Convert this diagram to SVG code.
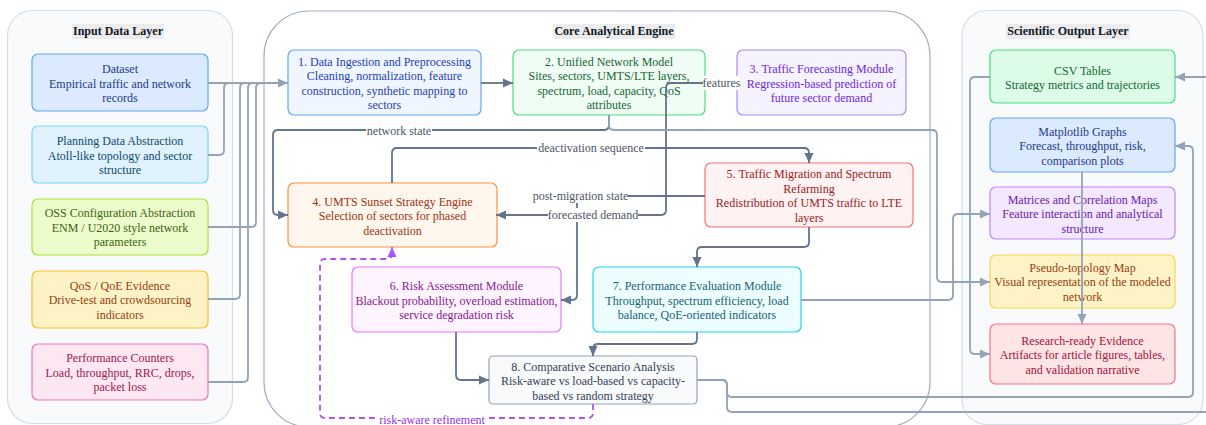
<svg xmlns="http://www.w3.org/2000/svg" width="1206" height="425" viewBox="0 0 1206 425">
<defs>
<marker id="aD" viewBox="0 0 10 10" refX="10" refY="5" markerWidth="10" markerHeight="10" markerUnits="userSpaceOnUse" orient="auto"><path d="M0,0.5 L10,5 L0,9.5 z" fill="#64748b"/></marker>
<marker id="aL" viewBox="0 0 10 10" refX="10" refY="5" markerWidth="10" markerHeight="10" markerUnits="userSpaceOnUse" orient="auto"><path d="M0,0.5 L10,5 L0,9.5 z" fill="#94a3b8"/></marker>
<marker id="aP" viewBox="0 0 10 10" refX="10" refY="5" markerWidth="10" markerHeight="10" markerUnits="userSpaceOnUse" orient="auto"><path d="M0,0.5 L10,5 L0,9.5 z" fill="#a855f7"/></marker>
</defs>
<style>
text{font-family:"Liberation Serif","Times New Roman",serif;font-size:12px;text-anchor:middle}
.title{font-weight:bold;fill:#111827}
.tbg{fill:#ececec}
.node{stroke-width:1.2}
.ed{fill:none;stroke:#64748b;stroke-width:1.8}
.el{fill:none;stroke:#94a3b8;stroke-width:1.8}
.ep{fill:none;stroke:#a855f7;stroke-width:1.8;stroke-dasharray:6 4}
.lbg{fill:#ffffff}
.lbl{fill:#4b5563}
</style>
<rect width="1206" height="425" fill="#ffffff"/>
<g id="clusters">
<rect x="7.5" y="10.5" width="225" height="413" rx="25" fill="#f8fafc" stroke="#d5dde8" stroke-width="1.2"/>
<rect x="264" y="11" width="666" height="416" rx="45" fill="#ffffff" stroke="#a3afc2" stroke-width="1.2"/>
<rect x="962" y="10.5" width="241" height="414" rx="25" fill="#f8fafc" stroke="#d5dde8" stroke-width="1.2"/>
<rect class="tbg" x="72" y="24" width="92" height="15"/>
<text class="title" x="118" y="35">Input Data Layer</text>
<rect class="tbg" x="553" y="24" width="122" height="15"/>
<text class="title" x="614" y="35">Core Analytical Engine</text>
<rect class="tbg" x="1006" y="24" width="124" height="15"/>
<text class="title" x="1068" y="35">Scientific Output Layer</text>
</g>
<g id="n-dataset">
<rect class="node" x="32" y="54" width="176" height="57" rx="6" fill="#dbeafe" stroke="#60a5fa"/>
<text fill="#1e3a8a"><tspan x="120" y="73">Dataset</tspan><tspan x="120" y="87.5">Empirical traffic and network</tspan><tspan x="120" y="102">records</tspan></text>
</g>
<g id="n-planning">
<rect class="node" x="32" y="126" width="176" height="57" rx="6" fill="#e0f2fe" stroke="#7dd3fc"/>
<text fill="#0c4a6e"><tspan x="120" y="145">Planning Data Abstraction</tspan><tspan x="120" y="159.5">Atoll-like topology and sector</tspan><tspan x="120" y="174">structure</tspan></text>
</g>
<g id="n-oss">
<rect class="node" x="32" y="199" width="176" height="56" rx="6" fill="#ecfccb" stroke="#a3e635"/>
<text fill="#3f6212"><tspan x="120" y="217">OSS Configuration Abstraction</tspan><tspan x="120" y="231.5">ENM / U2020 style network</tspan><tspan x="120" y="246">parameters</tspan></text>
</g>
<g id="n-qos">
<rect class="node" x="32" y="271" width="176" height="57" rx="6" fill="#fef3c7" stroke="#fbbf24"/>
<text fill="#92400e"><tspan x="120" y="289.5">QoS / QoE Evidence</tspan><tspan x="120" y="304">Drive-test and crowdsourcing</tspan><tspan x="120" y="318.5">indicators</tspan></text>
</g>
<g id="n-counters">
<rect class="node" x="32" y="344" width="176" height="56" rx="6" fill="#fce7f3" stroke="#f472b6"/>
<text fill="#9d174d"><tspan x="120" y="362">Performance Counters</tspan><tspan x="120" y="376.5">Load, throughput, RRC, drops,</tspan><tspan x="120" y="391">packet loss</tspan></text>
</g>
<g id="n1">
<rect class="node" x="288" y="50" width="193" height="65" rx="6" fill="#eff6ff" stroke="#60a5fa"/>
<text fill="#1e40af"><tspan x="384.5" y="65.5">1. Data Ingestion and Preprocessing</tspan><tspan x="384.5" y="80">Cleaning, normalization, feature</tspan><tspan x="384.5" y="94.5">construction, synthetic mapping to</tspan><tspan x="384.5" y="109">sectors</tspan></text>
</g>
<g id="n2">
<rect class="node" x="513" y="50" width="192" height="65" rx="6" fill="#f0fdf4" stroke="#4ade80"/>
<text fill="#166534"><tspan x="609" y="65.5">2. Unified Network Model</tspan><tspan x="609" y="80">Sites, sectors, UMTS/LTE layers,</tspan><tspan x="609" y="94.5">spectrum, load, capacity, QoS</tspan><tspan x="609" y="109">attributes</tspan></text>
</g>
<g id="n3">
<rect class="node" x="737" y="50" width="169" height="65" rx="6" fill="#f5f3ff" stroke="#a78bfa"/>
<text fill="#6d28d9"><tspan x="821.5" y="73">3. Traffic Forecasting Module</tspan><tspan x="821.5" y="87.5">Regression-based prediction of</tspan><tspan x="821.5" y="102">future sector demand</tspan></text>
</g>
<g id="n4">
<rect class="node" x="288" y="183" width="209" height="64" rx="6" fill="#fff7ed" stroke="#fb923c"/>
<text fill="#9a3412"><tspan x="392.5" y="205.5">4. UMTS Sunset Strategy Engine</tspan><tspan x="392.5" y="220">Selection of sectors for phased</tspan><tspan x="392.5" y="234.5">deactivation</tspan></text>
</g>
<g id="n5">
<rect class="node" x="705" y="163" width="208" height="64" rx="6" fill="#fef2f2" stroke="#f87171"/>
<text fill="#991b1b"><tspan x="809" y="178">5. Traffic Migration and Spectrum</tspan><tspan x="809" y="192.5">Refarming</tspan><tspan x="809" y="207">Redistribution of UMTS traffic to LTE</tspan><tspan x="809" y="221.5">layers</tspan></text>
</g>
<g id="n6">
<rect class="node" x="352" y="267" width="209" height="65" rx="6" fill="#fdf4ff" stroke="#e879f9"/>
<text fill="#86198f"><tspan x="456.5" y="290">6. Risk Assessment Module</tspan><tspan x="456.5" y="304.5">Blackout probability, overload estimation,</tspan><tspan x="456.5" y="319">service degradation risk</tspan></text>
</g>
<g id="n7">
<rect class="node" x="593" y="267" width="208" height="65" rx="6" fill="#ecfeff" stroke="#22d3ee"/>
<text fill="#155e75"><tspan x="697" y="290">7. Performance Evaluation Module</tspan><tspan x="697" y="304.5">Throughput, spectrum efficiency, load</tspan><tspan x="697" y="319">balance, QoE-oriented indicators</tspan></text>
</g>
<g id="n8">
<rect class="node" x="489" y="356" width="208" height="48" rx="4" fill="#f8fafc" stroke="#94a3b8"/>
<text fill="#334155"><tspan x="593" y="370.5">8. Comparative Scenario Analysis</tspan><tspan x="593" y="385">Risk-aware vs load-based vs capacity-</tspan><tspan x="593" y="399.5">based vs random strategy</tspan></text>
</g>
<g id="o-csv">
<rect class="node" x="990" y="50" width="185" height="53" rx="6" fill="#dcfce7" stroke="#4ade80"/>
<text fill="#166534"><tspan x="1082.5" y="74.5">CSV Tables</tspan><tspan x="1082.5" y="89">Strategy metrics and trajectories</tspan></text>
</g>
<g id="o-graphs">
<rect class="node" x="990" y="118" width="185" height="54" rx="6" fill="#dbeafe" stroke="#60a5fa"/>
<text fill="#1e3a8a"><tspan x="1082.5" y="135.5">Matplotlib Graphs</tspan><tspan x="1082.5" y="150">Forecast, throughput, risk,</tspan><tspan x="1082.5" y="164.5">comparison plots</tspan></text>
</g>
<g id="o-matrices">
<rect class="node" x="990" y="187" width="185" height="52" rx="6" fill="#f3e8ff" stroke="#c084fc"/>
<text fill="#6b21a8"><tspan x="1082.5" y="203.5">Matrices and Correlation Maps</tspan><tspan x="1082.5" y="218">Feature interaction and analytical</tspan><tspan x="1082.5" y="232.5">structure</tspan></text>
</g>
<g id="o-topology">
<rect class="node" x="990" y="255" width="185" height="53" rx="6" fill="#fef3c7" stroke="#fcd34d"/>
<text fill="#92400e"><tspan x="1082.5" y="271.5">Pseudo-topology Map</tspan><tspan x="1082.5" y="286">Visual representation of the modeled</tspan><tspan x="1082.5" y="300.5">network</tspan></text>
</g>
<g id="o-evidence">
<rect class="node" x="990" y="324" width="185" height="60" rx="6" fill="#ffe4e6" stroke="#fb7185"/>
<text fill="#9f1239"><tspan x="1082.5" y="344.5">Research-ready Evidence</tspan><tspan x="1082.5" y="359">Artifacts for article figures, tables,</tspan><tspan x="1082.5" y="373.5">and validation narrative</tspan></text>
</g>
<g id="connectors">
<path class="el" d="M208,83 H288" marker-end="url(#aL)"/>
<path class="el" d="M208,155 H219 Q224,155 224,150 V88 Q224,83 229,83 H288"/>
<path class="el" d="M208,299 H235 Q240,299 240,294 V88 Q240,83 245,83 H288"/>
<path class="el" d="M208,382 H243 Q248,382 248,377 V88 Q248,83 253,83 H288"/>
<path class="el" d="M208,227 H251 Q256,227 256,222 V88 Q256,83 261,83 H288"/>
<path class="ed" d="M481,83 H513" marker-end="url(#aD)"/>
<path class="ed" d="M705,83 H737" marker-end="url(#aD)"/>
<path class="ed" d="M737,83 H671 Q666,83 666,88 V210 Q666,215 661,215 H496" marker-end="url(#aD)"/>
<path class="ed" d="M609,115 V125 Q609,130 604,130 H278 Q273,130 273,135 V210 Q273,215 278,215 H288" marker-end="url(#aD)"/>
<path class="el" d="M609,115 V125 Q609,130 614,130 H932 Q937,130 937,135 V277 Q937,282 942,282 H990" marker-end="url(#aL)"/>
<path class="ed" d="M392,183 V153 Q392,148 397,148 H804 Q809,148 809,153 V163" marker-end="url(#aD)"/>
<path class="ed" d="M705,196 H582 Q577,196 577,201 V295 Q577,300 572,300 H561" marker-end="url(#aD)"/>
<path class="ed" d="M809,227 V242 Q809,247 804,247 H702 Q697,247 697,252 V267" marker-end="url(#aD)"/>
<path class="ed" d="M697,332 V339 Q697,344 692,344 H598 Q593,344 593,349 V356" marker-end="url(#aD)"/>
<path class="ed" d="M456,332 V375 Q456,380 461,380 H489" marker-end="url(#aD)"/>
<path class="ep" d="M593,404 V413 Q593,418 588,418 H325 Q320,418 320,413 V264 Q320,259 325,259 H387 Q392,259 392,254 V247" marker-end="url(#aP)"/>
<path class="el" d="M801,300 H948 Q953,300 953,295 V219 Q953,214 958,214 H990" marker-end="url(#aL)"/>
<path class="el" d="M697,380 H722 Q727,380 727,385 V392 Q727,397 732,397 H1188 Q1193,397 1193,392 V151 Q1193,146 1188,146 H1175" marker-end="url(#aL)"/>
<path class="el" d="M697,380 H722 Q727,380 727,385 V407 Q727,412 732,412 H1215 V77 H1175" marker-end="url(#aL)"/>
<path class="el" d="M990,77 H975 Q970,77 970,82 V349 Q970,354 975,354 H990" marker-end="url(#aL)"/>
<path class="el" d="M1082,172 V324" marker-end="url(#aL)"/>
<rect class="lbg" x="703" y="76" width="37" height="14"/>
<text class="lbl" x="721.5" y="87">features</text>
<rect class="lbg" x="548" y="208" width="90" height="14"/>
<text class="lbl" x="593" y="219">forecasted demand</text>
<rect class="lbg" x="366" y="124" width="66" height="14"/>
<text class="lbl" x="399" y="135">network state</text>
<rect class="lbg" x="537" y="141" width="108" height="14"/>
<text class="lbl" x="591" y="152">deactivation sequence</text>
<rect class="lbg" x="533" y="189" width="95" height="14"/>
<text class="lbl" x="580.5" y="200">post-migration state</text>
<rect class="lbg" x="378" y="413" width="108" height="14"/>
<text x="432" y="424" fill="#9333ea">risk-aware refinement</text>
</g>
</svg>
